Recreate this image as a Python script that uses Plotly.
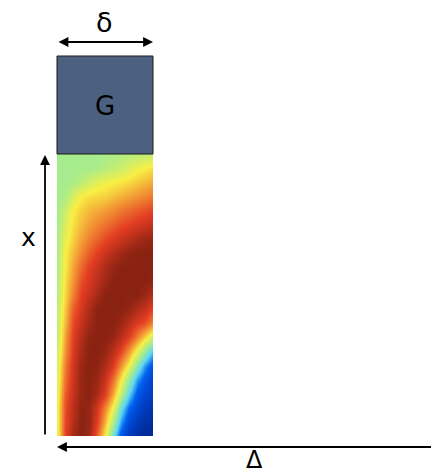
import plotly.graph_objects as go

# Field strip: column / row positions (pixel coordinates of the diagram) and values
col_pos = [57, 65, 73, 81, 89, 97, 105, 113, 121, 129, 137, 145, 153]
row_pos = [154, 168.1, 182.2, 196.3, 210.4, 224.5, 238.6, 252.7, 266.8, 280.9, 295,
           309.1, 323.2, 337.3, 351.4, 365.5, 379.6, 393.7, 407.8, 421.9, 436]
field = [
    [.45, .45, .45, .45, .45, .45, .46, .46, .47, .48, .49, .50, .51],
    [.45, .45, .45, .45, .45, .46, .48, .50, .52, .55, .58, .60, .62],
    [.45, .45, .46, .49, .53, .56, .58, .60, .61, .63, .65, .67, .69],
    [.45, .46, .54, .60, .62, .63, .64, .66, .68, .70, .72, .74, .76],
    [.45, .52, .60, .64, .67, .69, .71, .73, .76, .78, .80, .82, .84],
    [.45, .55, .62, .67, .71, .74, .77, .80, .83, .85, .87, .89, .91],
    [.46, .57, .64, .70, .75, .79, .83, .86, .89, .92, .95, .97, .98],
    [.46, .60, .67, .74, .80, .85, .89, .93, .96, .99, 1.0, 1.0, 1.0],
    [.47, .60, .70, .78, .85, .89, .94, .98, 1.0, 1.0, 1.0, 1.0, 1.0],
    [.47, .62, .72, .82, .87, .92, .96, 1.0, 1.0, 1.0, 1.0, 1.0, .99],
    [.48, .63, .75, .85, .90, .95, 1.0, 1.0, 1.0, 1.0, 1.0, .97, .93],
    [.49, .65, .80, .87, .94, 1.0, 1.0, 1.0, 1.0, .98, .94, .90, .84],
    [.50, .67, .83, .90, .96, 1.0, 1.0, 1.0, .97, .92, .86, .82, .74],
    [.50, .70, .85, .93, .99, 1.0, 1.0, .98, .92, .85, .75, .64, .52],
    [.52, .72, .86, .95, 1.0, 1.0, .98, .92, .84, .72, .58, .43, .30],
    [.54, .75, .88, .97, 1.0, .99, .94, .86, .72, .58, .40, .25, .15],
    [.55, .77, .89, .98, 1.0, .97, .89, .77, .60, .42, .26, .16, .10],
    [.56, .80, .90, .98, 1.0, .95, .85, .70, .50, .32, .18, .12, .08],
    [.57, .82, .92, .99, .98, .88, .74, .58, .35, .20, .12, .07, .04],
    [.57, .83, .93, 1.0, .98, .85, .68, .47, .26, .13, .07, .03, .01],
    [.56, .84, .95, 1.0, .96, .80, .60, .36, .16, .07, .03, .00, .00],
]

labels = {"delta": "δ", "G": "G", "x": "x", "Delta": "Δ"}

colorscale = [
    [0.0, "#002a96"],
    [0.12, "#0046d2"],
    [0.2, "#0062f0"],
    [0.32, "#5ed8f2"],
    [0.45, "#a6ec8e"],
    [0.6, "#f8ef44"],
    [0.72, "#f29434"],
    [0.85, "#e23c22"],
    [1.0, "#8a2212"],
]

W, H = 439, 474
OFF = 8  # page body margin in the browser
FW, FH = W - OFF, H - OFF
x0, x1 = 57, 153
y0, y1 = 154, 436

fig = go.Figure()
# heatmap drawn on a normal (upward) axis: page rows are negated
fig.add_trace(go.Heatmap(
    x=col_pos, y=[-r for r in row_pos], z=field, colorscale=colorscale, zmin=0, zmax=1,
    zsmooth="best", showscale=False, hoverinfo="skip",
    xaxis="x2", yaxis="y2",
))

fig.update_layout(
    width=FW, height=FH, margin=dict(l=0, r=0, t=0, b=0, pad=0),
    paper_bgcolor="white", plot_bgcolor="rgba(0,0,0,0)",
    xaxis=dict(range=[OFF, W], visible=False, domain=[0, 1]),
    yaxis=dict(range=[H, OFF], visible=False, domain=[0, 1]),
    xaxis2=dict(range=[x0, x1], visible=False,
                domain=[(x0 - OFF) / FW, (x1 - OFF) / FW], anchor="y2"),
    yaxis2=dict(range=[-y1, -y0], visible=False,
                domain=[1 - (y1 - OFF) / FH, 1 - (y0 - OFF) / FH], anchor="x2"),
    showlegend=False,
)

# G box
fig.add_shape(type="rect", xref="x", yref="y", x0=x0, x1=x1, y0=56, y1=y0,
              fillcolor="#4c6080", line=dict(color="#1a1a1a", width=1))

# long Δ baseline (runs to the right edge)
fig.add_shape(type="line", xref="x", yref="y", x0=90, x1=W + 5, y0=447, y1=447,
              line=dict(color="black", width=1.8))

font = dict(family="DejaVu Sans", color="black")
def label(txt, x, y, size):
    fig.add_annotation(x=x, y=y, xref="x", yref="y", text=txt, showarrow=False,
                       font=dict(size=size, **font), xanchor="center", yanchor="middle")

label(labels["delta"], 104, 22, 27)
label(labels["G"], 105, 106, 26)
label(labels["x"], 28, 237, 25)
label(labels["Delta"], 254, 460, 24)

def arrow(xh, yh, xt, yt, side="end"):
    fig.add_annotation(x=xh, y=yh, ax=xt, ay=yt, xref="x", yref="y", axref="x", ayref="y",
                       text="", showarrow=True, arrowhead=2, arrowsize=1.1, arrowwidth=1.8,
                       arrowcolor="black", arrowside=side, standoff=0, startstandoff=0)

arrow(153, 42, 57, 42, side="end+start")
arrow(45, 155, 45, 436)
arrow(57, 447, 100, 447)

fig.write_html("out.html")
